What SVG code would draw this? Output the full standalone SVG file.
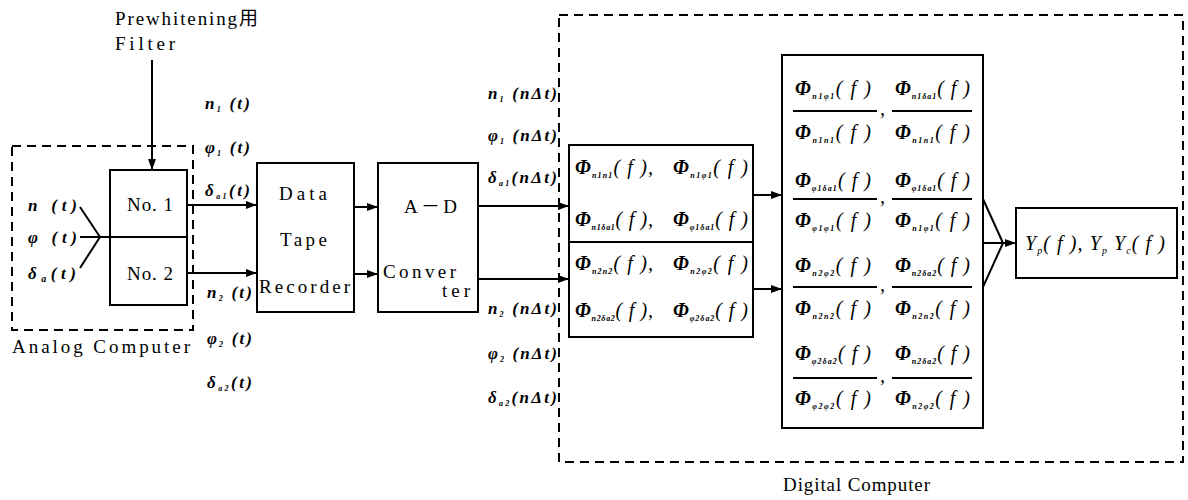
<svg xmlns="http://www.w3.org/2000/svg" width="1188" height="500" viewBox="0 0 1188 500">
<style>
.box{fill:none;stroke:#000;stroke-width:2}
.dash{fill:none;stroke:#000;stroke-width:2;stroke-dasharray:9 6}
.ln{fill:none;stroke:#000;stroke-width:2}
.ar{fill:none;stroke:#000;stroke-width:2;marker-end:url(#ah)}
.t{font-family:"Liberation Serif","Noto Sans CJK JP",serif;font-size:19px;fill:#000}
.m{font-family:"Liberation Serif",serif;font-style:italic;font-weight:bold;font-size:17px;fill:#000}
.ph{font-family:"Liberation Serif",serif;font-style:italic;font-size:20px;fill:#000}
.P{font-weight:bold}
.s{font-size:8px;font-weight:bold}
.s2{font-size:10px}
</style>
<defs>
<marker id="ah" markerWidth="11" markerHeight="8" refX="11" refY="4" orient="auto" markerUnits="userSpaceOnUse">
<path d="M0,0 L11,4 L0,8 z" fill="#000"/>
</marker>
</defs>

<g id="prewhitening">
<text class="t" x="115" y="25" textLength="143" lengthAdjust="spacing">Prewhitening用</text>
<text class="t" x="115" y="50" textLength="60" lengthAdjust="spacing">Filter</text>
</g>

<g id="analog-computer">
<rect class="dash" x="12" y="146" width="181" height="184"/>
<text class="t" x="12" y="353" textLength="178" lengthAdjust="spacing">Analog Computer</text>
</g>

<g id="inputs">
<text class="m" x="28" y="211" textLength="49" lengthAdjust="spacing">n (t)</text>
<text class="m" x="28" y="243" textLength="49" lengthAdjust="spacing">φ (t)</text>
<text class="m" x="28" y="279" textLength="48" lengthAdjust="spacing">δ<tspan class="s2" dy="3">a</tspan><tspan dy="-3">(t)</tspan></text>
</g>

<g id="filters">
<rect class="box" x="110" y="170" width="77" height="135"/>
<line class="ln" x1="110" y1="237" x2="187" y2="237"/>
<text class="t" x="127" y="211" textLength="46" lengthAdjust="spacing">No. 1</text>
<text class="t" x="127" y="280" textLength="46" lengthAdjust="spacing">No. 2</text>
</g>

<g id="data-tape-recorder">
<rect class="box" x="257" y="163" width="97" height="149"/>
<text class="t" x="279" y="200" textLength="48" lengthAdjust="spacing">Data</text>
<text class="t" x="280" y="246" textLength="47" lengthAdjust="spacing">Tape</text>
<text class="t" x="259" y="293" textLength="91" lengthAdjust="spacing">Recorder</text>
</g>

<g id="ad-converter">
<rect class="box" x="378" y="163" width="100" height="149"/>
<text class="t" x="404" y="213" textLength="53" lengthAdjust="spacing">A－D</text>
<text class="t" x="383" y="278" textLength="73" lengthAdjust="spacing">Conver</text>
<text class="t" x="442" y="297" textLength="28" lengthAdjust="spacing">ter</text>
</g>

<g id="analog-signals">
<text class="m" x="205" y="109" textLength="45" lengthAdjust="spacing">n<tspan class="s" dy="3">1</tspan><tspan dy="-3"> (t)</tspan></text>
<text class="m" x="205" y="153" textLength="45" lengthAdjust="spacing">φ<tspan class="s" dy="3">1</tspan><tspan dy="-3"> (t)</tspan></text>
<text class="m" x="205" y="196" textLength="45" lengthAdjust="spacing">δ<tspan class="s" dy="3">a1</tspan><tspan dy="-3">(t)</tspan></text>
<text class="m" x="207" y="298" textLength="45" lengthAdjust="spacing">n<tspan class="s" dy="3">2</tspan><tspan dy="-3"> (t)</tspan></text>
<text class="m" x="207" y="344" textLength="45" lengthAdjust="spacing">φ<tspan class="s" dy="3">2</tspan><tspan dy="-3"> (t)</tspan></text>
<text class="m" x="207" y="388" textLength="45" lengthAdjust="spacing">δ<tspan class="s" dy="3">a2</tspan><tspan dy="-3">(t)</tspan></text>
</g>

<g id="digital-signals">
<text class="m" x="488" y="99" textLength="69" lengthAdjust="spacing">n<tspan class="s" dy="3">1</tspan><tspan dy="-3"> (nΔt)</tspan></text>
<text class="m" x="488" y="141" textLength="69" lengthAdjust="spacing">φ<tspan class="s" dy="3">1</tspan><tspan dy="-3"> (nΔt)</tspan></text>
<text class="m" x="488" y="183" textLength="69" lengthAdjust="spacing">δ<tspan class="s" dy="3">a1</tspan><tspan dy="-3">(nΔt)</tspan></text>
<text class="m" x="488" y="314" textLength="69" lengthAdjust="spacing">n<tspan class="s" dy="3">2</tspan><tspan dy="-3"> (nΔt)</tspan></text>
<text class="m" x="488" y="359" textLength="69" lengthAdjust="spacing">φ<tspan class="s" dy="3">2</tspan><tspan dy="-3"> (nΔt)</tspan></text>
<text class="m" x="488" y="403" textLength="69" lengthAdjust="spacing">δ<tspan class="s" dy="3">a2</tspan><tspan dy="-3">(nΔt)</tspan></text>
</g>

<g id="digital-computer">
<rect class="dash" x="559" y="15" width="624" height="447"/>
<text class="t" x="783" y="491" textLength="147" lengthAdjust="spacing">Digital Computer</text>
</g>

<g id="spectra">
<rect class="box" x="569" y="145" width="184" height="192"/>
<line class="ln" x1="569" y1="242" x2="753" y2="242"/>
<text class="ph" x="575" y="174" textLength="78" lengthAdjust="spacing"><tspan class="P">Φ</tspan><tspan class="s" dy="4">n1n1</tspan><tspan dy="-4">( f ),</tspan></text>
<text class="ph" x="673" y="174" textLength="75" lengthAdjust="spacing"><tspan class="P">Φ</tspan><tspan class="s" dy="4">n1φ1</tspan><tspan dy="-4">( f )</tspan></text>
<text class="ph" x="575" y="226" textLength="78" lengthAdjust="spacing"><tspan class="P">Φ</tspan><tspan class="s" dy="4">n1δa1</tspan><tspan dy="-4">( f ),</tspan></text>
<text class="ph" x="673" y="226" textLength="75" lengthAdjust="spacing"><tspan class="P">Φ</tspan><tspan class="s" dy="4">φ1δa1</tspan><tspan dy="-4">( f )</tspan></text>
<text class="ph" x="575" y="270" textLength="78" lengthAdjust="spacing"><tspan class="P">Φ</tspan><tspan class="s" dy="4">n2n2</tspan><tspan dy="-4">( f ),</tspan></text>
<text class="ph" x="673" y="270" textLength="75" lengthAdjust="spacing"><tspan class="P">Φ</tspan><tspan class="s" dy="4">n2φ2</tspan><tspan dy="-4">( f )</tspan></text>
<text class="ph" x="575" y="317" textLength="78" lengthAdjust="spacing"><tspan class="P">Φ</tspan><tspan class="s" dy="4">n2δa2</tspan><tspan dy="-4">( f ),</tspan></text>
<text class="ph" x="673" y="317" textLength="75" lengthAdjust="spacing"><tspan class="P">Φ</tspan><tspan class="s" dy="4">φ2δa2</tspan><tspan dy="-4">( f )</tspan></text>
</g>

<g id="ratios">
<rect class="box" x="782" y="55" width="201" height="373"/>
<g class="ln">
<line x1="793" y1="111" x2="877" y2="111"/><line x1="892" y1="111" x2="972" y2="111"/>
<line x1="793" y1="199" x2="877" y2="199"/><line x1="892" y1="199" x2="972" y2="199"/>
<line x1="793" y1="287" x2="877" y2="287"/><line x1="892" y1="287" x2="972" y2="287"/>
<line x1="793" y1="378" x2="877" y2="378"/><line x1="892" y1="378" x2="972" y2="378"/>
</g>
<text class="ph" x="880" y="115">,</text>
<text class="ph" x="880" y="203">,</text>
<text class="ph" x="880" y="291">,</text>
<text class="ph" x="880" y="382">,</text>
<text class="ph" x="795" y="95" textLength="76" lengthAdjust="spacing"><tspan class="P">Φ</tspan><tspan class="s" dy="4">n1φ1</tspan><tspan dy="-4">( f )</tspan></text>
<text class="ph" x="895" y="95" textLength="75" lengthAdjust="spacing"><tspan class="P">Φ</tspan><tspan class="s" dy="4">n1δa1</tspan><tspan dy="-4">( f )</tspan></text>
<text class="ph" x="795" y="139" textLength="76" lengthAdjust="spacing"><tspan class="P">Φ</tspan><tspan class="s" dy="4">n1n1</tspan><tspan dy="-4">( f )</tspan></text>
<text class="ph" x="895" y="139" textLength="75" lengthAdjust="spacing"><tspan class="P">Φ</tspan><tspan class="s" dy="4">n1n1</tspan><tspan dy="-4">( f )</tspan></text>
<text class="ph" x="795" y="187" textLength="76" lengthAdjust="spacing"><tspan class="P">Φ</tspan><tspan class="s" dy="4">φ1δa1</tspan><tspan dy="-4">( f )</tspan></text>
<text class="ph" x="895" y="187" textLength="75" lengthAdjust="spacing"><tspan class="P">Φ</tspan><tspan class="s" dy="4">φ1δa1</tspan><tspan dy="-4">( f )</tspan></text>
<text class="ph" x="795" y="227" textLength="76" lengthAdjust="spacing"><tspan class="P">Φ</tspan><tspan class="s" dy="4">φ1φ1</tspan><tspan dy="-4">( f )</tspan></text>
<text class="ph" x="895" y="227" textLength="75" lengthAdjust="spacing"><tspan class="P">Φ</tspan><tspan class="s" dy="4">n1φ1</tspan><tspan dy="-4">( f )</tspan></text>
<text class="ph" x="795" y="272" textLength="76" lengthAdjust="spacing"><tspan class="P">Φ</tspan><tspan class="s" dy="4">n2φ2</tspan><tspan dy="-4">( f )</tspan></text>
<text class="ph" x="895" y="272" textLength="75" lengthAdjust="spacing"><tspan class="P">Φ</tspan><tspan class="s" dy="4">n2δa2</tspan><tspan dy="-4">( f )</tspan></text>
<text class="ph" x="795" y="315" textLength="76" lengthAdjust="spacing"><tspan class="P">Φ</tspan><tspan class="s" dy="4">n2n2</tspan><tspan dy="-4">( f )</tspan></text>
<text class="ph" x="895" y="315" textLength="75" lengthAdjust="spacing"><tspan class="P">Φ</tspan><tspan class="s" dy="4">n2n2</tspan><tspan dy="-4">( f )</tspan></text>
<text class="ph" x="795" y="360" textLength="76" lengthAdjust="spacing"><tspan class="P">Φ</tspan><tspan class="s" dy="4">φ2δa2</tspan><tspan dy="-4">( f )</tspan></text>
<text class="ph" x="895" y="360" textLength="75" lengthAdjust="spacing"><tspan class="P">Φ</tspan><tspan class="s" dy="4">n2δa2</tspan><tspan dy="-4">( f )</tspan></text>
<text class="ph" x="795" y="405" textLength="76" lengthAdjust="spacing"><tspan class="P">Φ</tspan><tspan class="s" dy="4">φ2φ2</tspan><tspan dy="-4">( f )</tspan></text>
<text class="ph" x="895" y="405" textLength="75" lengthAdjust="spacing"><tspan class="P">Φ</tspan><tspan class="s" dy="4">n2φ2</tspan><tspan dy="-4">( f )</tspan></text>
</g>

<g id="transfer-function">
<rect class="box" x="1016" y="208" width="161" height="70"/>
<text class="ph" x="1025" y="250" textLength="140" lengthAdjust="spacing">Y<tspan class="s2" dy="4">p</tspan><tspan dy="-4">( f ),  Y</tspan><tspan class="s2" dy="4">p</tspan><tspan dy="-4"> Y</tspan><tspan class="s2" dy="4">c</tspan><tspan dy="-4">( f )</tspan></text>
</g>

<g id="connectors">
<line class="ar" x1="152" y1="60" x2="152" y2="170"/>
<line class="ln" x1="80" y1="207" x2="100" y2="237"/>
<line class="ln" x1="80" y1="268" x2="100" y2="237"/>
<line class="ln" x1="80" y1="237" x2="110" y2="237"/>
<line class="ar" x1="187" y1="205" x2="257" y2="205"/>
<line class="ar" x1="187" y1="273" x2="257" y2="273"/>
<line class="ar" x1="354" y1="207" x2="378" y2="207"/>
<line class="ar" x1="354" y1="274" x2="378" y2="274"/>
<line class="ar" x1="478" y1="206" x2="569" y2="206"/>
<line class="ar" x1="478" y1="279" x2="569" y2="279"/>
<line class="ar" x1="753" y1="195" x2="782" y2="195"/>
<line class="ar" x1="753" y1="289" x2="782" y2="289"/>
<line class="ln" x1="983" y1="199" x2="1003" y2="243"/>
<line class="ln" x1="983" y1="287" x2="1003" y2="243"/>
<line class="ar" x1="983" y1="243" x2="1016" y2="243"/>
</g>
</svg>
